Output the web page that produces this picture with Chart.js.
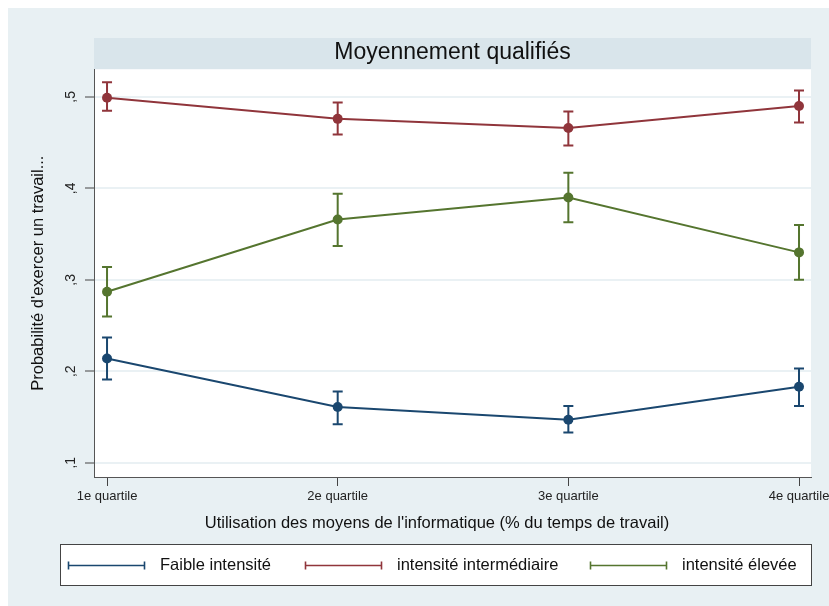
<!DOCTYPE html>
<html>
<head>
<meta charset="utf-8">
<script src="https://cdn.jsdelivr.net/npm/chart.js@4.4.1/dist/chart.umd.min.js"></script>
<style>
  html, body { margin: 0; padding: 0; background: #fff; }
  #wrap { width: 829px; height: 606px; }
</style>
</head>
<body>
<div id="wrap"><canvas id="chart"></canvas></div>
<script>
/* Stata-style margins plot: probability by quartile of IT use, with 95% CI caps */

const quartiles = ['1e quartile', '2e quartile', '3e quartile', '4e quartile'];
const yTicks = [0.1, 0.2, 0.3, 0.4, 0.5];

const seriesNames = ['Faible intensité', 'intensité intermédiaire', 'intensité élevée'];
const seriesColors = ['#1a476f', '#90353b', '#55752f'];

const faible = [0.214, 0.161, 0.147, 0.183];
const faibleLo = [0.191, 0.142, 0.133, 0.162];
const faibleHi = [0.237, 0.178, 0.162, 0.203];

const interm = [0.499, 0.476, 0.466, 0.490];
const intermLo = [0.485, 0.459, 0.447, 0.472];
const intermHi = [0.516, 0.494, 0.484, 0.507];

const elevee = [0.287, 0.366, 0.390, 0.330];
const eleveeLo = [0.260, 0.337, 0.363, 0.300];
const eleveeHi = [0.314, 0.394, 0.417, 0.360];

const FONT = '"Liberation Sans", Arial, sans-serif';

function toPoints(arr) {
  return arr.map((v, i) => ({ x: i, y: v }));
}

function makeSet(label, color, values, lo, hi) {
  return {
    label: label,
    data: toPoints(values),
    lo: lo,
    hi: hi,
    borderColor: color,
    backgroundColor: color,
    borderWidth: 2,
    pointRadius: 5,
    pointHoverRadius: 5,
    pointBorderWidth: 0,
    tension: 0,
    fill: false,
  };
}

/** Backgrounds, title band, CI caps, x title and the boxed legend. */
const stataDecor = {
  id: 'stataDecor',
  beforeDraw(chart) {
    const ctx = chart.ctx;
    const a = chart.chartArea;
    ctx.save();
    ctx.fillStyle = '#ffffff';
    ctx.fillRect(0, 0, chart.width, chart.height);
    ctx.fillStyle = '#e8f0f3';
    ctx.fillRect(8, 8, chart.width - 8, chart.height - 8);
    ctx.fillStyle = '#d9e5eb';
    ctx.fillRect(a.left, 38, a.right - a.left, a.top - 38);
    ctx.fillStyle = '#ffffff';
    ctx.fillRect(a.left, a.top, a.right - a.left, a.bottom - a.top);
    ctx.restore();
  },
  afterDatasetsDraw(chart) {
    const ctx = chart.ctx;
    const xs = chart.scales.x;
    const ys = chart.scales.y;
    ctx.save();
    chart.data.datasets.forEach((ds) => {
      ctx.strokeStyle = ds.borderColor;
      ctx.lineWidth = 2;
      ds.data.forEach((p, i) => {
        const px = xs.getPixelForValue(p.x);
        const top = ys.getPixelForValue(ds.hi[i]);
        const bot = ys.getPixelForValue(ds.lo[i]);
        ctx.beginPath();
        ctx.moveTo(px, top); ctx.lineTo(px, bot);
        ctx.moveTo(px - 5, top); ctx.lineTo(px + 5, top);
        ctx.moveTo(px - 5, bot); ctx.lineTo(px + 5, bot);
        ctx.stroke();
      });
    });
    ctx.restore();
  },
  afterDraw(chart) {
    const ctx = chart.ctx;
    ctx.save();
    // x axis title (Stata centres it on the graph, not the plot)
    ctx.fillStyle = '#111';
    ctx.font = '16.5px ' + FONT;
    ctx.textAlign = 'center';
    ctx.textBaseline = 'middle';
    ctx.fillText("Utilisation des moyens de l'informatique (% du temps de travail)", 437, 523);

    // legend box
    ctx.fillStyle = '#ffffff';
    ctx.fillRect(60, 544, 751, 41);
    ctx.strokeStyle = '#444';
    ctx.lineWidth = 1;
    ctx.strokeRect(60.5, 544.5, 751, 41);

    const starts = [68, 305, 590];
    chart.data.datasets.forEach((ds, i) => {
      const x0 = starts[i], x1 = x0 + 77, y = 565.5;
      ctx.strokeStyle = ds.borderColor;
      ctx.beginPath();
      ctx.moveTo(x0, y); ctx.lineTo(x1, y);
      ctx.moveTo(x0 + 0.5, y - 4); ctx.lineTo(x0 + 0.5, y + 4);
      ctx.moveTo(x1 - 0.5, y - 4); ctx.lineTo(x1 - 0.5, y + 4);
      ctx.lineWidth = 1.6;
      ctx.stroke();
      ctx.fillStyle = '#111';
      ctx.textAlign = 'left';
      ctx.fillText(ds.label, x1 + 15, y);
    });
    ctx.restore();
  },
};

new Chart(document.getElementById('chart'), {
  type: 'line',
  data: {
    datasets: [
      makeSet(seriesNames[0], seriesColors[0], faible, faibleLo, faibleHi),
      makeSet(seriesNames[1], seriesColors[1], interm, intermLo, intermHi),
      makeSet(seriesNames[2], seriesColors[2], elevee, eleveeLo, eleveeHi),
    ],
  },
  options: {
    responsive: true,
    maintainAspectRatio: false,
    animation: false,
    layout: { padding: { left: 8, top: 38, right: 18, bottom: 69 } },
    plugins: {
      legend: { display: false },
      tooltip: { enabled: false },
      title: {
        display: true,
        fullSize: false,
        text: 'Moyennement qualifiés',
        color: '#111',
        font: { family: FONT, size: 23, weight: 'normal', lineHeight: 1.1 },
        padding: { top: 2, bottom: 4 },
      },
    },
    scales: {
      x: {
        type: 'linear',
        min: -0.0565,
        max: 3.052,
        afterBuildTicks: (s) => { s.ticks = quartiles.map((q, i) => ({ value: i })); },
        afterFit: (s) => { s.height = 60; s.paddingLeft = 0; s.paddingRight = 0; },
        ticks: {
          callback: (v) => quartiles[v],
          color: '#222',
          font: { family: FONT, size: 13 },
          padding: 3,
          maxRotation: 0,
          minRotation: 0,
          autoSkip: false,
        },
        grid: { drawOnChartArea: false, color: 'transparent', tickColor: '#444', tickLength: 9, tickWidth: 1 },
        border: { display: true, color: '#555', width: 1 },
        title: { display: false },
      },
      y: {
        min: 0.0844,
        max: 0.5302,
        afterBuildTicks: (s) => { s.ticks = yTicks.map((v) => ({ value: v })); },
        afterFit: (s) => { s.width = 86; s.paddingTop = 0; s.paddingBottom = 0; },
        ticks: {
          callback: (v) => ',' + Math.round(v * 10),
          color: '#222',
          font: { family: FONT, size: 14 },
          minRotation: 90,
          maxRotation: 90,
          crossAlign: 'center',
          padding: 8,
        },
        grid: { color: '#eaf1f4', lineWidth: 2, tickColor: '#444', tickLength: 9, tickWidth: 1 },
        border: { display: true, color: '#555', width: 1 },
        title: {
          display: true,
          text: "Probabilité d'exercer un travail...",
          color: '#111',
          font: { family: FONT, size: 16.5, lineHeight: 1.2 },
          padding: { top: 21, bottom: 0 },
        },
      },
    },
  },
  plugins: [stataDecor],
});
</script>
</body>
</html>
